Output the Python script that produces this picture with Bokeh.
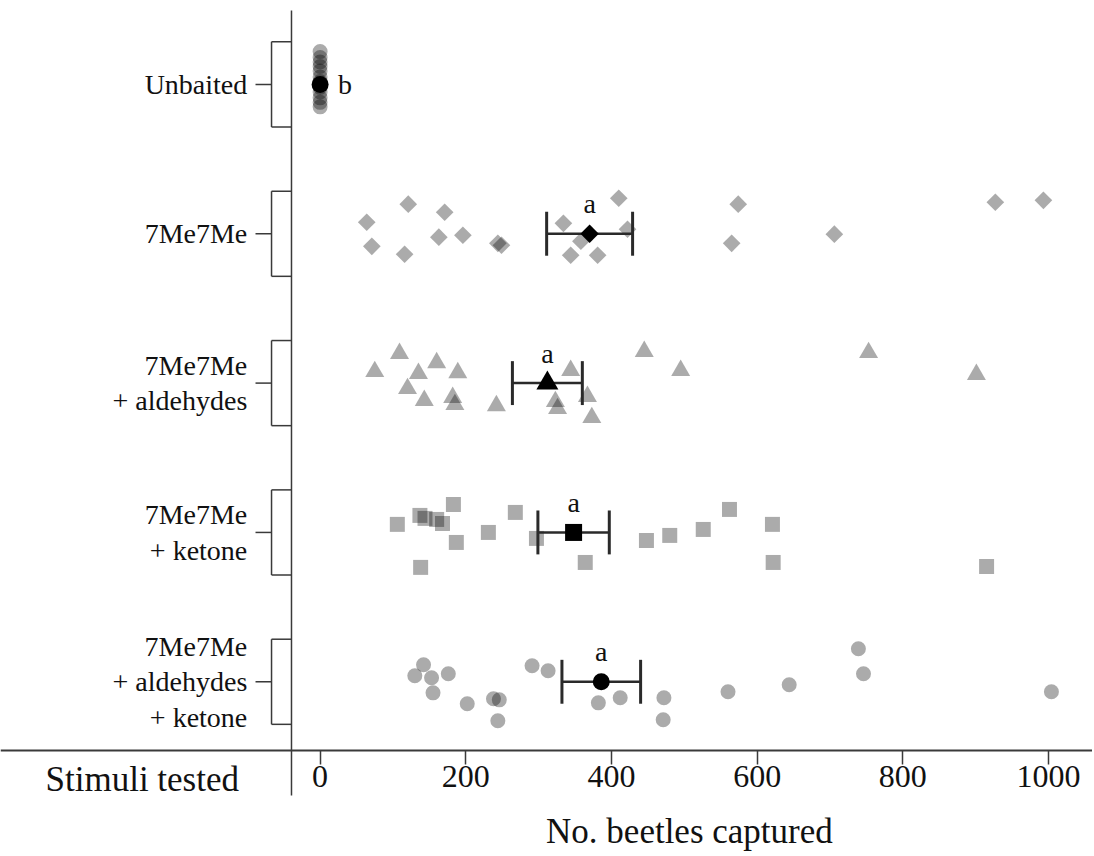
import math
from bokeh.plotting import figure
from bokeh.models import Range1d, Label, FixedTicker
from bokeh.core.properties import value
from bokeh.embed import file_html
from bokeh.resources import INLINE

# ---------------- data ----------------
categories = ["Unbaited", "7Me7Me", "7Me7Me\n+ aldehydes", "7Me7Me\n+ ketone",
              "7Me7Me\n+ aldehydes\n+ ketone"]

unbaited = [0, 0, 0, 0, 0, 0, 0, 0, 0, 0, 0, 0]
unbaited_jit = [-0.22, -0.18, -0.15, -0.12, -0.09, -0.05, -0.02, 0.02, 0.05, 0.09,
                0.12, 0.15]

me7 = [64, 71, 121, 116, 171, 163, 196, 244, 249, 334, 344, 358, 381, 410, 422,
       565, 574, 706, 927, 993]
me7_jit = [-0.077, 0.084, -0.198, 0.137, -0.144, 0.023, 0.010, 0.064, 0.077, -0.070,
           0.144, 0.050, 0.144, -0.238, -0.030, 0.064, -0.198, 0.003, -0.211, -0.224]

ald = [75, 109, 160, 135, 189, 120, 143, 182, 185, 242, 323, 326, 344, 367, 373,
       445, 495, 753, 901]
ald_jit = [-0.077, -0.198, -0.137, -0.064, -0.070, 0.037, 0.117, 0.097, 0.144, 0.151,
           0.124, 0.171, -0.084, 0.090, 0.231, -0.211, -0.084, -0.204, -0.057]

ket = [106, 138, 137, 144, 160, 168, 183, 187, 231, 268, 297, 364, 448, 480, 526,
       562, 621, 622, 915]
ket_jit = [-0.054, 0.234, -0.114, -0.094, -0.087, -0.060, -0.187, 0.067, 0.0, -0.134,
           0.040, 0.201, 0.054, 0.020, -0.020, -0.154, -0.054, 0.201, 0.228]

allc = [142, 130, 153, 176, 155, 202, 238, 246, 244, 291, 313, 382, 412, 472, 471,
        560, 644, 739, 746, 1004]
allc_jit = [-0.114, -0.040, -0.027, -0.054, 0.074, 0.147, 0.114, 0.121, 0.261, -0.107,
            -0.074, 0.141, 0.107, 0.107, 0.254, 0.067, 0.020, -0.221, -0.054, 0.067]

means = [0, 370, 312, 348, 386]
se = [0, 59, 48, 49, 54]
letters = ["b", "a", "a", "a", "a"]
x_ticks = [0, 200, 400, 600, 800, 1000]

# ---------------- figure ----------------
FONT = "Liberation Serif"
AX = "#3a3a3a"
TXT = "#111111"
AXIS_Y = 4.46          # where the horizontal axis line sits

p = figure(width=1092, height=856, output_backend="svg", toolbar_location=None,
           x_range=Range1d(-438.8, 1060.4), y_range=Range1d(5.170, -0.562),
           y_axis_location=None, min_border_left=0, min_border_right=0,
           min_border_top=0, min_border_bottom=0)
p.grid.visible = False
p.outline_line_color = None
p.background_fill_color = "white"
p.border_fill_color = "white"

xa = p.xaxis[0]
xa.fixed_location = AXIS_Y
xa.ticker = FixedTicker(ticks=x_ticks)
xa.minor_tick_line_color = None
xa.major_tick_in = 0
xa.major_tick_out = 14
xa.major_tick_line_color = AX
xa.major_tick_line_width = 1.5
xa.axis_line_color = AX
xa.axis_line_width = 2
xa.major_label_standoff = 2
xa.major_label_text_font = FONT
xa.major_label_text_font_size = "32px"
xa.major_label_text_color = TXT

# vertical separator line
p.segment(x0=[-39.3], y0=[-0.495], x1=[-39.3], y1=[4.761], line_color=AX, line_width=1.5)

# category brackets
idx = list(range(len(categories)))
h = 0.285
bx0, bx1, tx0 = -66.7, -39.3, -88.7
seg_x0, seg_y0, seg_x1, seg_y1 = [], [], [], []
for i in idx:
    seg_x0 += [bx0, bx0, bx0, tx0]
    seg_y0 += [i - h, i - h, i + h, i]
    seg_x1 += [bx0, bx1, bx1, bx0]
    seg_y1 += [i + h, i - h, i + h, i]
p.segment(x0=seg_x0, y0=seg_y0, x1=seg_x1, y1=seg_y1, line_color=AX, line_width=1.5)

p.text(x=[-100] * len(idx), y=idx, text=categories, text_align="right",
       text_baseline="middle", text_font=value(FONT), text_font_size="28px",
       text_line_height=1.15, text_color=TXT)

# raw points
GRAY = dict(fill_color="black", fill_alpha=0.33, line_color=None)
p.scatter(x=unbaited, y=[0 + j for j in unbaited_jit], marker="circle", size=15, **GRAY)
p.scatter(x=me7, y=[1 + j for j in me7_jit], marker="square", size=12.5,
          angle=math.pi / 4, **GRAY)
p.scatter(x=ald, y=[2 + j for j in ald_jit], marker="triangle", size=19, **GRAY)
p.scatter(x=ket, y=[3 + j for j in ket_jit], marker="square", size=15, **GRAY)
p.scatter(x=allc, y=[4 + j for j in allc_jit], marker="circle", size=15, **GRAY)

# error bars (only where there is spread)
cap = 0.147
EB = "#2a2a2a"
eb = [(m, s, i) for m, s, i in zip(means, se, idx) if s > 0]
lo = [m - s for m, s, i in eb]
hi = [m + s for m, s, i in eb]
ey = [i for m, s, i in eb]
p.segment(x0=lo, y0=ey, x1=hi, y1=ey, line_color=EB, line_width=2.5)
p.segment(x0=lo, y0=[i - cap for i in ey], x1=lo, y1=[i + cap for i in ey],
          line_color=EB, line_width=3)
p.segment(x0=hi, y0=[i - cap for i in ey], x1=hi, y1=[i + cap for i in ey],
          line_color=EB, line_width=3)

# mean markers
p.scatter(x=[means[0]], y=[0], marker="circle", size=17, fill_color="black", line_color=None)
p.scatter(x=[means[1]], y=[1], marker="square", size=13, angle=math.pi / 4,
          fill_color="black", line_color=None)
p.scatter(x=[means[2]], y=[2], marker="triangle", size=22, fill_color="black", line_color=None)
p.scatter(x=[means[3]], y=[3], marker="square", size=17, fill_color="black", line_color=None)
p.scatter(x=[means[4]], y=[4], marker="circle", size=17, fill_color="black", line_color=None)

# significance letters
p.text(x=[means[0]], y=[0], text=[letters[0]], x_offset=18, text_align="left",
       text_baseline="middle", text_font=value(FONT), text_font_size="28px",
       text_color=TXT)
p.text(x=means[1:], y=[i - 0.20 for i in idx[1:]], text=letters[1:], text_align="center",
       text_baseline="alphabetic", text_font=value(FONT), text_font_size="28px",
       text_color=TXT)

# axis titles
p.add_layout(Label(x=-377, y=4.654, text="Stimuli tested", text_align="left",
                   text_baseline="middle", text_font=FONT, text_font_size="35px",
                   text_color=TXT))
p.add_layout(Label(x=507, y=5.0, text="No. beetles captured", text_align="center",
                   text_baseline="middle", text_font=FONT, text_font_size="35px",
                   text_color=TXT))

open("out.html", "w").write(file_html(p, INLINE))
